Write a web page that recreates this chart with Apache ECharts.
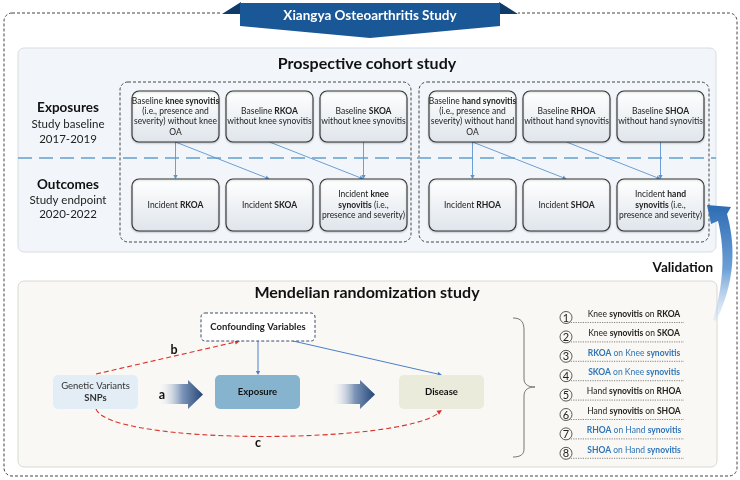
<!DOCTYPE html>
<html><head><meta charset="utf-8">
<script src="https://cdn.jsdelivr.net/npm/echarts@6/dist/echarts.min.js"></script>
<style>html,body{margin:0;padding:0;background:#fff}#c{width:740px;height:480px}</style>
</head><body><div id="c"></div>
<script>
// ---------- content ----------
const bannerTitle = 'Xiangya Osteoarthritis Study';
const cohortTitle = 'Prospective cohort study';
const mrTitle = 'Mendelian randomization study';
const rowLabels = [['Exposures', 'Study baseline', '2017-2019'], ['Outcomes', 'Study endpoint', '2020-2022']];
const exposureBoxes = [
  'Baseline **knee synovitis**\n(i.e., presence and\nseverity) without knee\nOA',
  'Baseline **RKOA**\nwithout knee synovitis',
  'Baseline **SKOA**\nwithout knee synovitis',
  'Baseline **hand synovitis**\n(i.e., presence and\nseverity) without hand\nOA',
  'Baseline **RHOA**\nwithout hand synovitis',
  'Baseline **SHOA**\nwithout hand synovitis'
];
const outcomeBoxes = [
  'Incident **RKOA**',
  'Incident **SKOA**',
  'Incident **knee**\n**synovitis** (i.e.,\npresence and severity)',
  'Incident **RHOA**',
  'Incident **SHOA**',
  'Incident **hand**\n**synovitis** (i.e.,\npresence and severity)'
];
const cohortLinks = [[0, 0], [0, 1], [1, 2], [2, 2], [3, 3], [3, 4], [4, 5], [5, 5]];
const mrNodes = ['Genetic Variants\n**SNPs**', '**Exposure**', '**Disease**'];
const confounder = '**Confounding Variables**';
const pathLabels = ['a', 'b', 'c'];
const mrResults = [
  'Knee **synovitis** on **RKOA**',
  'Knee **synovitis** on **SKOA**',
  '**RKOA** on Knee **synovitis**',
  '**SKOA** on Knee **synovitis**',
  'Hand **synovitis** on **RHOA**',
  'Hand **synovitis** on **SHOA**',
  '**RHOA** on Hand **synovitis**',
  '**SHOA** on Hand **synovitis**'
];
const mrResultIsReverse = [false, false, true, true, false, false, true, true];
const validationLabel = 'Validation';

// ---------- helpers ----------
const F = 'Lato, "Open Sans", sans-serif';
function richStr(s) { return s.replace(/\*\*(.+?)\*\*/g, '{b|$1}'); }
function txt(x, y, s, o) {
  o = o || {};
  const size = o.size || 9, color = o.color || '#222', lh = o.lh || Math.round(size * 1.2 * 10) / 10;
  return {
    type: 'text', x: x, y: y, z: o.z || 20, silent: true,
    style: {
      text: richStr(s), fontFamily: F, fontSize: size, fontWeight: o.weight || 'normal',
      fill: color, align: o.align || 'center', verticalAlign: 'middle', lineHeight: lh,
      rich: { b: { fontFamily: F, fontSize: size, fontWeight: 'bold', fill: color, lineHeight: lh } }
    }
  };
}
function arrow(x1, y1, x2, y2, color, w, hl, hw, dash, z) {
  const a = Math.atan2(y2 - y1, x2 - x1);
  const bx = x2 - hl * Math.cos(a), by = y2 - hl * Math.sin(a);
  const px = -Math.sin(a) * hw, py = Math.cos(a) * hw;
  return [
    { type: 'line', z: z || 5, shape: { x1: x1, y1: y1, x2: bx, y2: by }, style: { stroke: color, lineWidth: w, lineDash: dash || null } },
    { type: 'polygon', z: z || 5, shape: { points: [[x2, y2], [bx + px, by + py], [bx - px, by - py]] }, style: { fill: color } }
  ];
}
function cubic(p0, p1, p2, p3, t) {
  const u = 1 - t;
  return [u*u*u*p0[0] + 3*u*u*t*p1[0] + 3*u*t*t*p2[0] + t*t*t*p3[0],
          u*u*u*p0[1] + 3*u*u*t*p1[1] + 3*u*t*t*p2[1] + t*t*t*p3[1]];
}
function quad(p0, p1, p2, t) {
  const u = 1 - t;
  return [u*u*p0[0] + 2*u*t*p1[0] + t*t*p2[0], u*u*p0[1] + 2*u*t*p1[1] + t*t*p2[1]];
}

const els = [];

// ---------- outer frame & banner ----------
els.push({ type: 'rect', z: 1, shape: { x: 4, y: 13, width: 733, height: 463, r: 8 },
  style: { fill: 'none', stroke: '#444', lineWidth: 1, lineDash: [3, 2] } });
els.push({ type: 'rect', z: 2, shape: { x: 222, y: 10, width: 296, height: 6 }, style: { fill: '#fff' } });
els.push({ type: 'polygon', z: 3, shape: { points: [[222, 14], [241, 2], [241, 14]] }, style: { fill: '#0f3b6b' } });
els.push({ type: 'polygon', z: 3, shape: { points: [[518, 14], [499, 2], [499, 14]] }, style: { fill: '#0f3b6b' } });
els.push({ type: 'polygon', z: 4, shape: { points: [[240, 3], [500, 3], [500, 26], [370, 38], [240, 26]] },
  style: { fill: '#1a5797' } });
els.push(txt(370, 16, bannerTitle, { size: 13.5, weight: 'bold', color: '#fff' }));

// ---------- prospective cohort panel ----------
els.push({ type: 'rect', z: 1, shape: { x: 18, y: 48, width: 698, height: 204, r: 6 },
  style: { fill: '#f2f6fa', stroke: '#d5dce4', lineWidth: 1 } });
els.push(txt(367, 64, cohortTitle, { size: 16, weight: 'bold', color: '#111' }));
const rowLabelY = [[108, 124, 139], [185, 200, 214]];
rowLabels.forEach((r, i) => {
  els.push(txt(68, rowLabelY[i][0], r[0], { size: 13.5, weight: 'bold', color: '#111' }));
  els.push(txt(68, rowLabelY[i][1], r[1], { size: 11.5, color: '#222' }));
  els.push(txt(68, rowLabelY[i][2], r[2], { size: 11.5, color: '#222' }));
});
els.push({ type: 'line', z: 3, shape: { x1: 18, y1: 158, x2: 716, y2: 158 },
  style: { stroke: '#86b5da', lineWidth: 2, lineDash: [14, 7] } });
[[120, 411], [419, 709]].forEach(g => {
  els.push({ type: 'rect', z: 2, shape: { x: g[0], y: 82, width: g[1] - g[0], height: 160, r: 8 },
    style: { fill: 'none', stroke: '#444', lineWidth: 1, lineDash: [3, 2] } });
});
const boxX = [132, 226, 320, 429, 523, 617];
const boxW = 87;
const topY = [91, 142], botY = [179, 231];
const boxFill = { type: 'linear', x: 0, y: 0, x2: 0, y2: 1,
  colorStops: [{ offset: 0, color: '#ffffff' }, { offset: 1, color: '#dfe5ec' }] };
boxX.forEach((x, i) => {
  els.push({ type: 'rect', z: 6, shape: { x: x, y: topY[0], width: boxW, height: topY[1] - topY[0], r: 7 },
    style: { fill: boxFill, stroke: '#333', lineWidth: 1.1, shadowBlur: 2, shadowColor: 'rgba(0,0,0,0.2)', shadowOffsetY: 1 } });
  els.push(txt(x + boxW / 2, (topY[0] + topY[1]) / 2, exposureBoxes[i], { size: 8.5, lh: 10.3, color: '#222' }));
  els.push({ type: 'rect', z: 6, shape: { x: x, y: botY[0], width: boxW, height: botY[1] - botY[0], r: 7 },
    style: { fill: boxFill, stroke: '#333', lineWidth: 1.1, shadowBlur: 2, shadowColor: 'rgba(0,0,0,0.2)', shadowOffsetY: 1 } });
  els.push(txt(x + boxW / 2, (botY[0] + botY[1]) / 2, outcomeBoxes[i], { size: 8.5, lh: 10.3, color: '#222' }));
});
cohortLinks.forEach(l => {
  const x1 = boxX[l[0]] + boxW / 2, x2 = boxX[l[1]] + boxW / 2;
  els.push(...arrow(x1, topY[1], x2, botY[0], '#5b95d0', 0.9, 4, 2.2, null, 5));
});

// ---------- validation arrow ----------
(function () {
  const pts = [];
  const A = [713, 320], Ac = [729, 266], B = [718, 221];
  for (let t = 0; t <= 1.0001; t += 0.05) pts.push(quad(A, Ac, B, t));
  pts.push([711, 224]);
  pts.push([707, 205]);
  pts.push([731, 207]);
  const D = [727, 214], Dc = [742, 268], E = [716, 321];
  for (let t = 0; t <= 1.0001; t += 0.05) pts.push(quad(D, Dc, E, t));
  els.push({ type: 'polygon', z: 8, shape: { points: pts },
    style: { fill: { type: 'linear', x: 0, y: 0, x2: 0, y2: 1,
      colorStops: [{ offset: 0, color: '#2d6cb3' }, { offset: 0.55, color: '#6d9fd6' }, { offset: 1, color: 'rgba(205,225,244,0.4)' }] } } });
})();
els.push(txt(713, 268, validationLabel, { size: 13.5, weight: 'bold', color: '#111', align: 'right' }));

// ---------- MR panel ----------
els.push({ type: 'rect', z: 1, shape: { x: 18, y: 281, width: 699, height: 186, r: 6 },
  style: { fill: '#f9f8f4', stroke: '#d8d8d2', lineWidth: 1 } });
els.push(txt(367, 293, mrTitle, { size: 16, weight: 'bold', color: '#111' }));

// confounder box
els.push({ type: 'rect', z: 6, shape: { x: 201, y: 313, width: 114, height: 28, r: 4 },
  style: { fill: '#fff', stroke: '#3b4a6b', lineWidth: 1, lineDash: [3, 2] } });
els.push(txt(258, 327, confounder, { size: 9.5, color: '#222' }));

const nodeBoxes = [[53, '#e2edf6'], [215, '#86b4cf'], [399, '#ebebdb']];
nodeBoxes.forEach((n, i) => {
  els.push({ type: 'rect', z: 6, shape: { x: n[0], y: 375, width: 85, height: 34, r: 5 }, style: { fill: n[1] } });
  els.push(txt(n[0] + 42.5, 392, mrNodes[i], { size: 9.5, lh: 12, color: i === 0 ? '#333' : '#111' }));
});
// fat gradient arrows
[[157, 188, 203], [330, 360, 375]].forEach(a => {
  els.push({ type: 'polygon', z: 5, shape: { points: [[a[0], 384], [a[1], 384], [a[1], 380], [a[2], 394.5], [a[1], 409], [a[1], 404], [a[0], 404]] },
    style: { fill: { type: 'linear', x: 0, y: 0, x2: 1, y2: 0,
      colorStops: [{ offset: 0, color: 'rgba(255,255,255,0)' }, { offset: 0.55, color: '#7d95b8' }, { offset: 1, color: '#244677' }] } } });
});
// blue arrows from confounder
els.push(...arrow(258, 341, 258, 375, '#4c7fc9', 1, 4, 2.2, null, 5));
els.push(...arrow(293, 341, 442, 375, '#4c7fc9', 1, 4.5, 2.2, null, 5));
// red dashed b
els.push(...arrow(96, 374, 240, 341, '#d8332b', 1.1, 5, 2.4, [5, 3], 5));
// red dashed c curve
(function () {
  const P0 = [96, 409], P1 = [110, 445], P2 = [400, 445], P3 = [442, 410];
  els.push({ type: 'bezierCurve', z: 5, shape: { x1: P0[0], y1: P0[1], cpx1: P1[0], cpy1: P1[1], cpx2: P2[0], cpy2: P2[1], x2: P3[0] - 3, y2: P3[1] + 2.6 },
    style: { stroke: '#d8332b', lineWidth: 1.1, lineDash: [5, 3], fill: null } });
  const q = cubic(P0, P1, P2, P3, 0.96);
  els.push(...arrow(q[0], q[1], P3[0], P3[1], '#d8332b', 0.01, 5, 2.4, null, 5).slice(1));
})();
els.push(txt(162, 395, pathLabels[0], { size: 12.5, weight: 'bold', color: '#111' }));
els.push(txt(174, 350, pathLabels[1], { size: 12.5, weight: 'bold', color: '#111' }));
els.push(txt(258, 443, pathLabels[2], { size: 12.5, weight: 'bold', color: '#111' }));

// brace
const braceStyle = { stroke: '#777', lineWidth: 1, fill: null };
els.push({ type: 'bezierCurve', z: 5, shape: { x1: 513, y1: 318, cpx1: 521, cpy1: 318, cpx2: 524, cpy2: 322, x2: 524, y2: 330 }, style: braceStyle });
els.push({ type: 'line', z: 5, shape: { x1: 524, y1: 330, x2: 524, y2: 379 }, style: braceStyle });
els.push({ type: 'bezierCurve', z: 5, shape: { x1: 524, y1: 379, cpx1: 524, cpy1: 385, cpx2: 529, cpy2: 387, x2: 535, y2: 387 }, style: braceStyle });
els.push({ type: 'bezierCurve', z: 5, shape: { x1: 535, y1: 387, cpx1: 529, cpy1: 387, cpx2: 524, cpy2: 389, x2: 524, y2: 396 }, style: braceStyle });
els.push({ type: 'line', z: 5, shape: { x1: 524, y1: 396, x2: 524, y2: 449 }, style: braceStyle });
els.push({ type: 'bezierCurve', z: 5, shape: { x1: 524, y1: 449, cpx1: 524, cpy1: 454, cpx2: 521, cpy2: 457, x2: 513, y2: 457 }, style: braceStyle });

// results list
mrResults.forEach((s, i) => {
  const y = 314 + i * 19.4;
  els.push({ type: 'circle', z: 6, shape: { cx: 566, cy: y + 3.5, r: 6 }, style: { fill: '#f9f8f4', stroke: '#333', lineWidth: 0.8 } });
  els.push(txt(566, y + 4, String(i + 1), { size: 11, color: '#222' }));
  els.push({ type: 'line', z: 5, shape: { x1: 566, y1: y + 8.5, x2: 684, y2: y + 8.5 }, style: { stroke: '#666', lineWidth: 0.8, lineDash: [1.2, 1.2] } });
  els.push(txt(634, y, s, { size: 8.5, color: mrResultIsReverse[i] ? '#2e74b8' : '#222' }));
});

const chart = echarts.init(document.getElementById('c'), null, { renderer: 'canvas' });
chart.setOption({ animation: false, graphic: { elements: els } });
</script>
</body></html>
